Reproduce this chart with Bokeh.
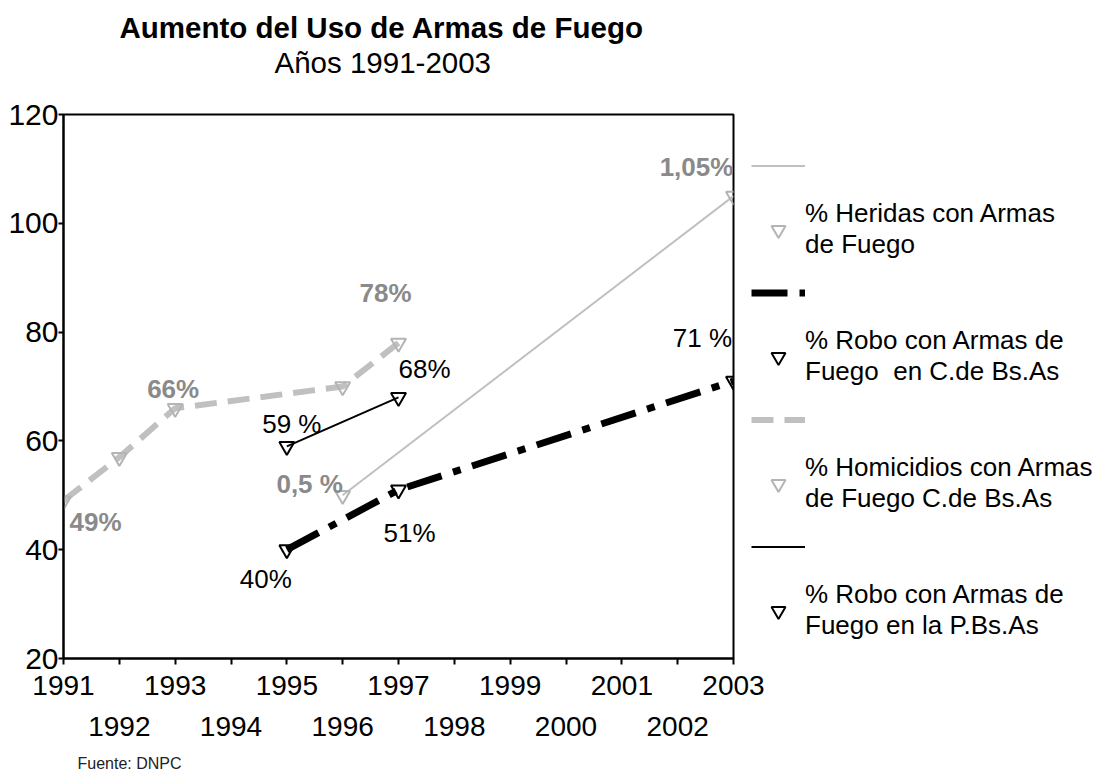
from bokeh.plotting import figure
from bokeh.models import (FixedTicker, LinearAxis, Legend, LegendItem, Title,
                          ColumnDataSource, Range1d)
from bokeh.core.properties import value
from bokeh.embed import file_html
from bokeh.resources import INLINE

FONT = "Liberation Sans"

# ---- data ----
years = list(range(1991, 2004))
odd_years = [y for y in years if y % 2 == 1]
even_years = [y for y in years if y % 2 == 0]
y_ticks = [20, 40, 60, 80, 100, 120]

heridas_x = [1996, 2003]
heridas_y = [50, 105]
heridas_labels = ["0,5 %", "1,05%"]

robo_caba_x = [1995, 1997, 2003]
robo_caba_y = [40, 51, 71]
robo_caba_labels = ["40%", "51%", "71 %"]

homicidios_x = [1991, 1992, 1993, 1996, 1997]
homicidios_y = [49, 57, 66, 70, 78]
homicidios_labels = ["49%", "", "66%", "", "78%"]

robo_pba_x = [1995, 1997]
robo_pba_y = [59, 68]
robo_pba_labels = ["59 %", "68%"]

legend_texts = [
    "% Heridas con Armas\nde Fuego",
    "% Robo con Armas de\nFuego  en C.de Bs.As",
    "% Homicidios con Armas\nde Fuego C.de Bs.As",
    "% Robo con Armas de\nFuego en la P.Bs.As",
]

# ---- label offsets (screen px) ----
heridas_dx, heridas_dy = [-33, -37], [-11, -29]
caba_dx, caba_dy = [-21, 11, -31], [29, 43, -43]
hom_dx, hom_dy = [32, 0, -2, 0, -13], [21, 0, -19, 0, -50]
pba_dx, pba_dy = [5, 26], [-22, -28]

GRAY_LINE = "#c0c0c0"
GRAY_MARK = "#b4b4b4"
GRAY_TEXT = "#8a8a8a"

p = figure(frame_width=670, frame_height=544,
           x_range=Range1d(1991, 2003), y_range=Range1d(20, 120),
           output_backend="svg", toolbar_location=None,
           min_border_left=63, min_border_right=365,
           min_border_top=114, min_border_bottom=0)
p.title = None
p.outline_line_color = "black"
p.outline_line_width = 2
p.xgrid.visible = False
p.ygrid.visible = False
p.background_fill_color = "white"
p.border_fill_color = "white"

# x axis (odd years labeled, even years as minor ticks)
xa = p.xaxis[0]
xa.ticker = FixedTicker(ticks=odd_years, minor_ticks=even_years)
xa.axis_line_width = 2
xa.major_tick_line_width = 2
xa.minor_tick_line_width = 2
xa.major_tick_out = 6
xa.major_tick_in = 0
xa.minor_tick_out = 6
xa.minor_tick_in = 0
xa.major_label_text_font = FONT
xa.major_label_text_font_size = "28px"
xa.major_label_text_color = "black"
xa.major_label_standoff = 11

xa2 = LinearAxis(ticker=FixedTicker(ticks=even_years))
xa2.axis_line_color = None
xa2.major_tick_line_color = None
xa2.minor_tick_line_color = None
xa2.major_tick_out = 0
xa2.major_tick_in = 0
xa2.minor_tick_out = 0
xa2.major_label_text_font = FONT
xa2.major_label_text_font_size = "28px"
xa2.major_label_text_color = "black"
xa2.major_label_standoff = 19
p.add_layout(xa2, "below")

ya = p.yaxis[0]
ya.ticker = FixedTicker(ticks=y_ticks)
ya.axis_line_width = 2
ya.major_tick_line_width = 2
ya.major_tick_out = 5
ya.major_tick_in = 0
ya.minor_tick_line_color = None
ya.major_label_text_font = FONT
ya.major_label_text_font_size = "30px"
ya.major_label_text_color = "black"
ya.major_label_standoff = 0

# ---- series ----
r_her_l = p.line(heridas_x, heridas_y, line_color=GRAY_LINE, line_width=2)
r_her_m = p.scatter(heridas_x, heridas_y, marker="inverted_triangle", size=15,
                    line_color=GRAY_MARK, fill_color=None, line_width=2)

r_caba_l = p.line(robo_caba_x, robo_caba_y, line_color="black", line_width=7,
                  line_dash="36 12 8 12")
r_caba_m = p.scatter(robo_caba_x, robo_caba_y, marker="inverted_triangle", size=15,
                     line_color="black", fill_color=None, line_width=2)

r_hom_l = p.line(homicidios_x, homicidios_y, line_color=GRAY_LINE, line_width=6,
                 line_dash="22 11")
r_hom_m = p.scatter(homicidios_x, homicidios_y, marker="inverted_triangle", size=15,
                    line_color=GRAY_MARK, fill_color=None, line_width=2)

r_pba_l = p.line(robo_pba_x, robo_pba_y, line_color="black", line_width=2)
r_pba_m = p.scatter(robo_pba_x, robo_pba_y, marker="inverted_triangle", size=15,
                    line_color="black", fill_color=None, line_width=2)

# ---- data labels ----
def add_labels(xs, ys, texts, dxs, dys, color, style):
    src = ColumnDataSource(dict(x=xs, y=ys, t=texts, dx=dxs, dy=dys))
    p.text(x="x", y="y", text="t", x_offset="dx", y_offset="dy", source=src,
           text_font=value(FONT), text_font_size="26px", text_color=color,
           text_font_style=style, text_align="center", text_baseline="middle")

add_labels(heridas_x, heridas_y, heridas_labels, heridas_dx, heridas_dy, GRAY_TEXT, "bold")
add_labels(homicidios_x, homicidios_y, homicidios_labels, hom_dx, hom_dy, GRAY_TEXT, "bold")
add_labels(robo_caba_x, robo_caba_y, robo_caba_labels, caba_dx, caba_dy, "black", "normal")
add_labels(robo_pba_x, robo_pba_y, robo_pba_labels, pba_dx, pba_dy, "black", "normal")

# ---- legend ----
items = [
    LegendItem(label=" ", renderers=[r_her_l]),
    LegendItem(label=legend_texts[0], renderers=[r_her_m]),
    LegendItem(label=" ", renderers=[r_caba_l]),
    LegendItem(label=legend_texts[1], renderers=[r_caba_m]),
    LegendItem(label=" ", renderers=[r_hom_l]),
    LegendItem(label=legend_texts[2], renderers=[r_hom_m]),
    LegendItem(label=" ", renderers=[r_pba_l]),
    LegendItem(label=legend_texts[3], renderers=[r_pba_m]),
]
legend = Legend(items=items, location=(18, 17), orientation="vertical",
                glyph_width=54, glyph_height=35, label_standoff=0,
                spacing=15, padding=0, margin=0,
                border_line_color=None, background_fill_alpha=0,
                label_text_font=FONT, label_text_font_size="26px",
                label_text_line_height=1.1, label_text_color="black")
p.add_layout(legend, "right")

# ---- titles (first added sits closest to the plot) ----
spacer_top = Title(text=" ", text_font_size="1px", standoff=33)
p.add_layout(spacer_top, "above")
sub = Title(text="Años 1991-2003", align="left", offset=211,
            text_font=FONT, text_font_size="29.5px", text_font_style="normal",
            text_color="black", standoff=0)
p.add_layout(sub, "above")
main = Title(text="Aumento del Uso de Armas de Fuego", align="left", offset=56,
             text_font=FONT, text_font_size="29.5px", text_font_style="bold",
             text_color="black", standoff=0)
p.add_layout(main, "above")

spacer_bot = Title(text=" ", text_font_size="1px", standoff=11)
p.add_layout(spacer_bot, "below")
src_t = Title(text="Fuente: DNPC", align="left", offset=14,
              text_font=FONT, text_font_size="16px", text_font_style="normal",
              text_color="#222222", standoff=0)
p.add_layout(src_t, "below")

open("out.html", "w").write(file_html(p, INLINE))
